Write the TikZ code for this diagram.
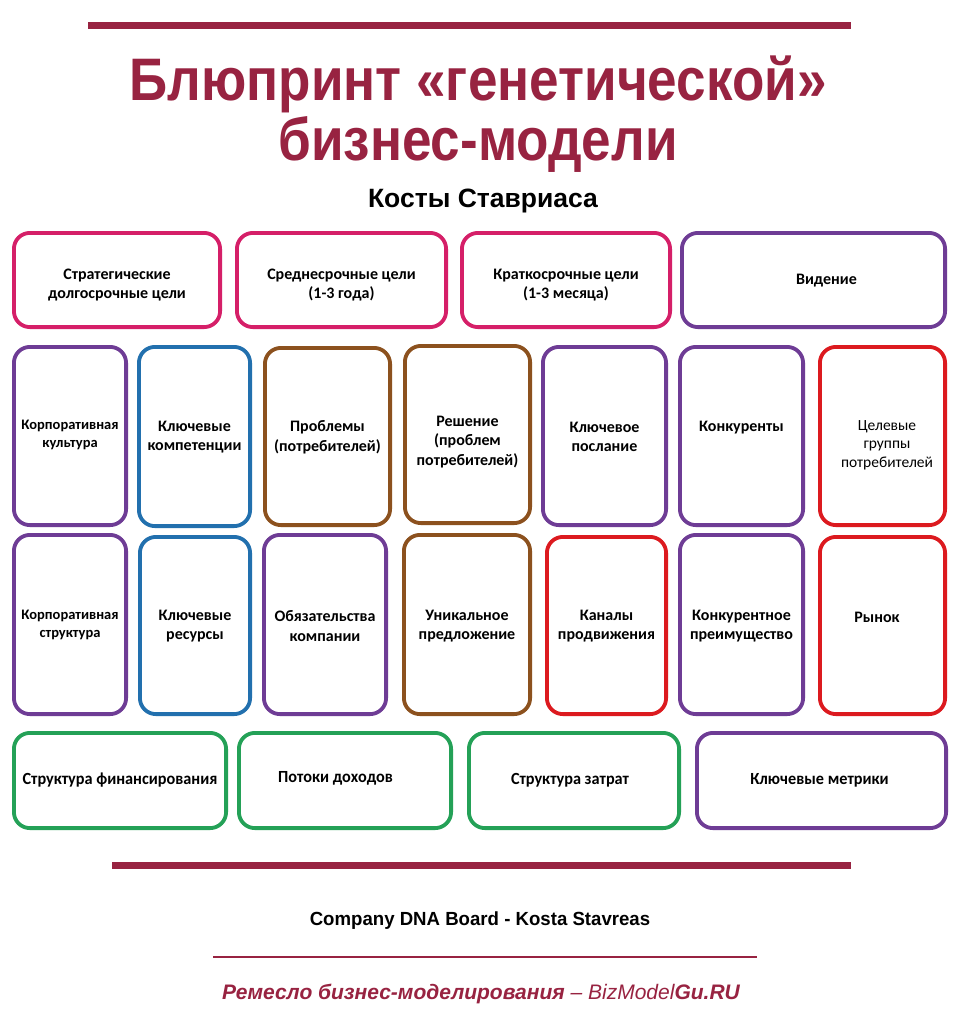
\documentclass[tikz,border=0pt]{standalone}
\usepackage{fontspec}
\setmainfont{Carlito}
\newfontfamily\arialf{Liberation Sans}
\usetikzlibrary{calc}
\definecolor{maroon}{HTML}{982341}
\definecolor{cpink}{HTML}{D51F68}
\definecolor{cpurple}{HTML}{6E3C95}
\definecolor{cblue}{HTML}{2270AE}
\definecolor{cbrown}{HTML}{8C511E}
\definecolor{cred}{HTML}{DC1A1F}
\definecolor{cgreen}{HTML}{24A157}
\newcommand\cardbox[6]{%
  \node[card=#2, minimum width={#5-#3-3.8}, minimum height={#6-#4-3.8}] (#1) at ({(#3+#5)/2},{(#4+#6)/2}) {};}
\begin{document}
\begin{tikzpicture}[x=1pt,y=-1pt,
  card/.style={draw=#1, line width=3.8pt, rounded corners=16pt, fill=white, inner sep=0pt},
  lbl/.style={align=center, inner sep=0pt, font=\fontsize{16}{19.5}\selectfont\bfseries},
  lbls/.style={align=center, inner sep=0pt, font=\fontsize{14.5}{18.5}\selectfont\bfseries},
  lblr/.style={align=center, inner sep=0pt, font=\fontsize{15.5}{18.5}\selectfont},
  lblc/.style={inner sep=0pt, font=\fontsize{17}{19}\selectfont\bfseries},
  ttl/.style={anchor=base, inner sep=0pt, text=maroon, font=\arialf\bfseries\fontsize{60}{60}\selectfont}]
\useasboundingbox (0,0) rectangle (960,1021);
\fill[white] (0,0) rectangle (960,1021);
% bars
\fill[maroon] (88,22) rectangle (851,29);
\fill[maroon] (112,862) rectangle (851,869);
\fill[maroon] (213,956) rectangle (757,958);
% titles
\node[ttl] (t1) at (478,100) {\scalebox{0.884}[1]{Блюпринт «генетической»}};
\node[ttl] (t2) at (478,160) {\scalebox{0.884}[1]{бизнес-модели}};
\node[anchor=base, inner sep=0pt, font=\arialf\bfseries\fontsize{26.5}{26.5}\selectfont] (t3) at (483,207) {Косты Ставриаса};
% row 1
\cardbox{a1}{cpink}{12}{231}{222}{329}
\cardbox{b1}{cpink}{235}{231}{448}{329}
\cardbox{c1}{cpink}{460}{231}{672}{329}
\cardbox{d1}{cpurple}{680}{231}{947}{329}
\node[lbl] at ($(a1.center)+(0,5)$) {Стратегические\\долгосрочные цели};
\node[lbl] at ($(b1.center)+(0,5)$) {Среднесрочные цели\\(1-3 года)};
\node[lbl] at ($(c1.center)+(0,5)$) {Краткосрочные цели\\(1-3 месяца)};
\node[lbl] at ($(d1.center)+(13,1)$) {Видение};
% row 2
\cardbox{a2}{cpurple}{12}{345}{128}{527}
\cardbox{b2}{cblue}{137}{345}{252}{528}
\cardbox{c2}{cbrown}{263}{346}{392}{527}
\cardbox{d2}{cbrown}{403}{344}{532}{525}
\cardbox{e2}{cpurple}{541}{345}{668}{527}
\cardbox{f2}{cpurple}{678}{345}{805}{527}
\cardbox{g2}{cred}{818}{345}{947}{527}
\node[lbls] at (70,435) {Корпоративная\\культура};
\node[lbl] at (194.5,437) {Ключевые\\компетенции};
\node[lbl] at (327.5,437) {Проблемы\\(потребителей)};
\node[lbl] at (467.5,442) {Решение\\(проблем\\потребителей)};
\node[lbl] at (604.5,437) {Ключевое\\послание};
\node[lbl] at (741.5,428) {Конкуренты};
\node[lblr] at (887,445) {Целевые\\группы\\потребителей};
% row 3
\cardbox{a3}{cpurple}{12}{533}{128}{716}
\cardbox{b3}{cblue}{138}{535}{252}{716}
\cardbox{c3}{cpurple}{262}{533}{388}{716}
\cardbox{d3}{cbrown}{402}{533}{532}{716}
\cardbox{e3}{cred}{545}{535}{668}{716}
\cardbox{f3}{cpurple}{678}{533}{805}{716}
\cardbox{g3}{cred}{818}{535}{947}{716}
\node[lbls] at (70,625) {Корпоративная\\структура};
\node[lbl] at (195,626) {Ключевые\\ресурсы};
\node[lbl] at (325,626) {Обязательства\\компании};
\node[lbl] at (467,626) {Уникальное\\предложение};
\node[lbl] at (606.5,626) {Каналы\\продвижения};
\node[lbl] at (741.5,626) {Конкурентное\\преимущество};
\node[lbl] at (877,617) {Рынок};
% row 4
\cardbox{a4}{cgreen}{12}{731}{228}{830}
\cardbox{b4}{cgreen}{237}{731}{453}{830}
\cardbox{c4}{cgreen}{467}{731}{681}{830}
\cardbox{d4}{cpurple}{695}{731}{948}{830}
\node[lblc] at (120,780) {\scalebox{0.956}[1]{Структура финансирования}};
\node[lblc] at (335.5,778) {\scalebox{0.956}[1]{Потоки доходов}};
\node[lblc] at (570,780) {\scalebox{0.956}[1]{Структура затрат}};
\node[lblc] at (819.5,780) {\scalebox{0.956}[1]{Ключевые метрики}};
% footer
\node[anchor=base, inner sep=0pt, font=\arialf\bfseries\fontsize{19}{19}\selectfont] (f1) at (480,925) {\scalebox{0.98}[1]{Company DNA Board - Kosta Stavreas}};
\node[anchor=base, inner sep=0pt, text=maroon, font=\arialf\itshape\fontsize{21}{21}\selectfont] (f2) at (481,999) {\textbf{Ремесло бизнес-моделирования} – BizModel\textbf{Gu.RU}};
\end{tikzpicture}
\end{document}
